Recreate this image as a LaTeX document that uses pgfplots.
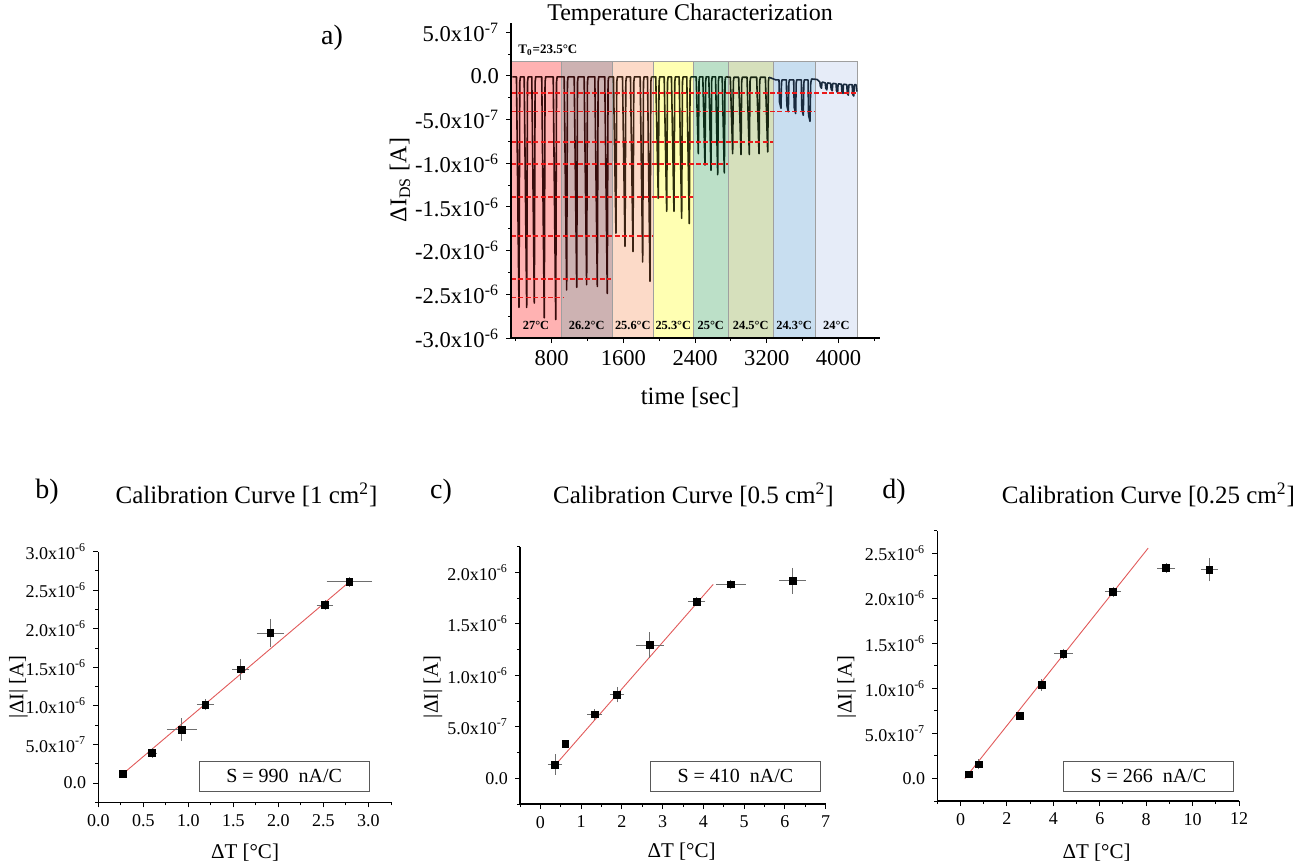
\documentclass[border=0pt]{standalone}
\usepackage{fontspec}
\setmainfont{Liberation Serif}
\usepackage{pgfplots}
\pgfplotsset{compat=1.18}
\newcommand{\sci}[2]{#1x10\textsuperscript{#2}}
\definecolor{s1}{RGB}{255,178,178}
\definecolor{s2}{RGB}{205,178,178}
\definecolor{s3}{RGB}{252,218,200}
\definecolor{s4}{RGB}{255,255,178}
\definecolor{s5}{RGB}{188,224,200}
\definecolor{s6}{RGB}{214,224,188}
\definecolor{s7}{RGB}{200,222,240}
\definecolor{s8}{RGB}{230,236,248}
\definecolor{tr1}{RGB}{55,12,12}
\definecolor{tr2}{RGB}{60,35,20}
\definecolor{tr3}{RGB}{45,45,12}
\definecolor{tr4}{RGB}{12,45,25}
\definecolor{tr5}{RGB}{25,38,18}
\definecolor{tr6}{RGB}{25,42,62}
\definecolor{fitred}{RGB}{225,90,90}
\definecolor{dashred}{RGB}{235,25,25}
\definecolor{ebar}{RGB}{110,110,110}
\pgfplotsset{
  origin/.style={scale only axis, anchor=south west, axis lines*=left,
    axis line style={-, line width=0.6pt}, tick align=outside,
    major tick length=2.5pt, minor tick length=1.5pt,
    every tick/.style={black, line width=0.5pt}},
  calib/.style={origin, tick label style={font=\fontsize{9}{10}\selectfont}},
  shade/.style={draw=gray!75, line width=0.4pt, fill=#1},
  tr/.style={color=#1, line width=0.8pt, line join=round},
  dl/.style={draw=dashred, line width=0.9pt, dash pattern=on 2.5pt off 1.2pt},
  pts/.style={only marks, mark=square*, mark size=1.7pt, color=black,
    error bars/.cd, x dir=both, x explicit, y dir=both, y explicit,
    error bar style={color=ebar, line width=0.45pt},
    error mark options={color=ebar, mark size=1.6pt, line width=0.45pt}},
  fit/.style={color=fitred, line width=0.45pt}
}
\pgfplotstableread{
x y ex ey
0.271 0.117 0 0
0.598 0.390 0.02 0.02
0.928 0.693 0.13 0.108
1.190 1.014 0.06 0.03
1.580 1.473 0.058 0.095
1.910 1.946 0.117 0.143
2.517 2.306 0.056 0.02
2.787 2.609 0.217 0.02
}\tabB
\pgfplotstableread{
x y ex ey
0.359 0.133 0.094 0.068
0.614 0.334 0 0
1.334 0.621 0.10 0.02
1.883 0.813 0.10 0.045
2.686 1.295 0.258 0.092
3.833 1.716 0.135 0.015
4.668 1.884 0.287 0.015
6.190 1.919 0.246 0.094
}\tabC
\pgfplotstableread{
x y ex ey
0.358 0.045 0 0
0.788 0.156 0 0.02
2.550 0.699 0 0
3.497 1.037 0 0.03
4.430 1.387 0.27 0.02
6.570 2.074 0.215 0.02
8.860 2.334 0.244 0.02
10.720 2.316 0.23 0.093
}\tabD
\begin{document}
\begin{tikzpicture}
\useasboundingbox (0,0) rectangle (655pt,-433pt);
% ---------------- panel a
\begin{axis}[origin, at={(255.5pt,-169pt)}, width=184.5pt, height=157.5pt,
  xmin=346, xmax=4463, ymin=-3, ymax=0.606, axis on top,
  xtick={800,1600,2400,3200,4000}, xticklabels={800,1600,2400,3200,4000},
  minor xtick={400,1200,2000,2800,3600,4400},
  ytick={-3,-2.5,-2,-1.5,-1,-0.5,0,0.5},
  yticklabels={\sci{-3.0}{-6},\sci{-2.5}{-6},\sci{-2.0}{-6},\sci{-1.5}{-6},\sci{-1.0}{-6},\sci{-5.0}{-7},0.0,\sci{5.0}{-7}},
  minor ytick={-2.75,-2.25,-1.75,-1.25,-0.75,-0.25,0.25},
  tick label style={font=\fontsize{11.3}{13}\selectfont}]
\addplot[shade=s1] coordinates {(346,-3)(346,0.172)(904,0.172)(904,-3)} -- cycle;
\addplot[shade=s2] coordinates {(904,-3)(904,0.172)(1476,0.172)(1476,-3)} -- cycle;
\addplot[shade=s3] coordinates {(1476,-3)(1476,0.172)(1934,0.172)(1934,-3)} -- cycle;
\addplot[shade=s4] coordinates {(1934,-3)(1934,0.172)(2380,0.172)(2380,-3)} -- cycle;
\addplot[shade=s5] coordinates {(2380,-3)(2380,0.172)(2770,0.172)(2770,-3)} -- cycle;
\addplot[shade=s6] coordinates {(2770,-3)(2770,0.172)(3272,0.172)(3272,-3)} -- cycle;
\addplot[shade=s7] coordinates {(3272,-3)(3272,0.172)(3738,0.172)(3738,-3)} -- cycle;
\addplot[shade=s8] coordinates {(3738,-3)(3738,0.172)(4214,0.172)(4214,-3)} -- cycle;
% trace
\addplot[tr=tr1] coordinates {(360,-0.01)
(407,-0.01)(435,-2.65)(444,-0.07)(451,-0.01)
(493,-0.01)(521,-2.65)(530,-0.07)(537,-0.01)
(578,-0.01)(606,-2.60)(615,-0.07)(622,-0.01)
(689,-0.01)(717,-2.77)(726,-0.07)(733,-0.01)
(817,-0.01)(845,-2.79)(854,-0.07)(861,-0.01)
(939,-0.01)(967,-2.45)(976,-0.07)(983,-0.01)
(1051,-0.01)(1079,-2.42)(1088,-0.07)(1095,-0.01)
(1162,-0.01)(1190,-2.39)(1199,-0.07)(1206,-0.01)
(1281,-0.01)(1309,-2.41)(1318,-0.07)(1325,-0.01)
(1392,-0.01)(1420,-2.49)(1429,-0.07)(1436,-0.01)};
\addplot[tr=tr2] coordinates {(1436,-0.01)
(1489,-0.01)(1517,-1.80)(1526,-0.07)(1533,-0.01)
(1590,-0.01)(1618,-1.95)(1627,-0.07)(1634,-0.01)
(1679,-0.01)(1707,-2.01)(1716,-0.07)(1723,-0.01)
(1787,-0.01)(1815,-2.13)(1824,-0.07)(1831,-0.01)
(1869,-0.01)(1897,-2.35)(1906,-0.07)(1913,-0.01)};
\addplot[tr=tr3] coordinates {(1913,-0.01)
(1961,-0.01)(1989,-1.40)(1998,-0.07)(2005,-0.01)
(2055,-0.01)(2083,-1.55)(2092,-0.07)(2099,-0.01)
(2136,-0.01)(2164,-1.55)(2173,-0.07)(2180,-0.01)
(2222,-0.01)(2250,-1.63)(2259,-0.07)(2266,-0.01)
(2307,-0.01)(2335,-1.69)(2344,-0.07)(2351,-0.01)};
\addplot[tr=tr4] coordinates {(2351,-0.01)
(2412,-0.01)(2436,-0.89)(2444,-0.06)(2450,-0.01)
(2486,-0.01)(2510,-1.02)(2518,-0.06)(2524,-0.01)
(2553,-0.01)(2577,-1.08)(2585,-0.06)(2591,-0.01)
(2628,-0.01)(2652,-1.13)(2660,-0.06)(2666,-0.01)
(2702,-0.01)(2726,-1.11)(2734,-0.06)(2740,-0.01)};
\addplot[tr=tr5] coordinates {(2740,-0.01)
(2793,-0.015)(2819,-0.89)(2827,-0.06)(2834,-0.015)
(2886,-0.015)(2912,-0.90)(2920,-0.06)(2927,-0.015)
(2979,-0.015)(3005,-0.90)(3013,-0.06)(3020,-0.015)
(3087,-0.015)(3113,-0.89)(3121,-0.06)(3128,-0.015)
(3184,-0.015)(3210,-0.87)(3218,-0.06)(3225,-0.015)};
\addplot[tr=tr6] coordinates {(3225,-0.015)(3300,-0.045)
(3336,-0.045)(3342,-0.30)(3358,-0.37)(3364,-0.08)(3370,-0.045)
(3418,-0.045)(3424,-0.34)(3440,-0.41)(3446,-0.08)(3452,-0.045)
(3500,-0.045)(3506,-0.36)(3522,-0.43)(3528,-0.08)(3534,-0.045)
(3585,-0.045)(3591,-0.38)(3607,-0.45)(3613,-0.08)(3619,-0.045)
(3660,-0.045)(3666,-0.45)(3682,-0.52)(3690,-0.08)(3700,-0.035)(3760,-0.04)
(3792,-0.07)(3798,-0.12)(3810,-0.14)(3815,-0.08)(3820,-0.07)
(3852,-0.08)(3858,-0.14)(3870,-0.16)(3875,-0.09)(3880,-0.08)
(3912,-0.085)(3918,-0.15)(3930,-0.17)(3935,-0.095)(3940,-0.085)
(3972,-0.09)(3978,-0.17)(3990,-0.19)(3995,-0.10)(4000,-0.09)
(4032,-0.095)(4038,-0.18)(4050,-0.20)(4055,-0.105)(4060,-0.095)
(4092,-0.10)(4098,-0.20)(4110,-0.22)(4115,-0.11)(4120,-0.10)
(4152,-0.10)(4158,-0.21)(4170,-0.23)(4175,-0.11)(4180,-0.10)
(4195,-0.10)(4205,-0.18)};
% dashed levels
\addplot[dl] coordinates {(346,-2.537)(930,-2.537)};
\addplot[dl] coordinates {(346,-2.326)(1458,-2.326)};
\addplot[dl] coordinates {(346,-1.831)(1934,-1.831)};
\addplot[dl] coordinates {(346,-1.388)(2380,-1.388)};
\addplot[dl] coordinates {(346,-1.007)(2770,-1.007)};
\addplot[dl] coordinates {(346,-0.759)(3272,-0.759)};
\addplot[dl] coordinates {(346,-0.408)(3738,-0.408)};
\addplot[dl] coordinates {(346,-0.198)(4214,-0.198)};
\begin{scope}[every node/.style={font=\bfseries\fontsize{6.2}{7}\selectfont, inner sep=0pt}]
\node at (axis cs:625,-2.86) {27°C};
\node at (axis cs:1190,-2.86) {26.2°C};
\node at (axis cs:1705,-2.86) {25.6°C};
\node at (axis cs:2157,-2.86) {25.3°C};
\node at (axis cs:2575,-2.86) {25°C};
\node at (axis cs:3021,-2.86) {24.5°C};
\node at (axis cs:3505,-2.86) {24.3°C};
\node at (axis cs:3976,-2.86) {24°C};
\end{scope}
\node[anchor=west, inner sep=0pt, font=\bfseries\fontsize{6.5}{8}\selectfont] at (axis cs:424,0.297) {T\textsubscript{0}=23.5°C};
\end{axis}
\node[font=\fontsize{12}{14}\selectfont] at (345pt,-7.5pt) {Temperature Characterization};
\node[font=\fontsize{14}{16}\selectfont] at (166pt,-19pt) {a)};
\node[rotate=90, font=\fontsize{12}{14}\selectfont] at (200pt,-90pt) {ΔI\textsubscript{DS} [A]};
\node[font=\fontsize{12.4}{14}\selectfont] at (345pt,-199pt) {time [sec]};
% ---------------- panel b
\begin{axis}[calib, at={(49.15pt,-401.15pt)}, width=146.35pt, height=125.3pt,
  xmin=0, xmax=3.25, ymin=-0.25, ymax=3.0,
  xtick={0,0.5,1,1.5,2,2.5,3}, xticklabels={0.0,0.5,1.0,1.5,2.0,2.5,3.0},
  minor xtick={0.25,0.75,1.25,1.75,2.25,2.75,3.25},
  ytick={0,0.5,1,1.5,2,2.5,3},
  yticklabels={0.0,\sci{5.0}{-7},\sci{1.0}{-6},\sci{1.5}{-6},\sci{2.0}{-6},\sci{2.5}{-6},\sci{3.0}{-6}},
  minor ytick={-0.25,0.25,0.75,1.25,1.75,2.25,2.75}]
\addplot[fit] coordinates {(0.271,0.117)(2.787,2.608)};
\addplot[pts] table[x=x, y=y, x error=ex, y error=ey] {\tabB};
\end{axis}
% ---------------- panel c
\begin{axis}[calib, at={(260pt,-402pt)}, width=152.85pt, height=128.65pt,
  xmin=-0.5, xmax=7, ymin=-0.25, ymax=2.25,
  xtick={0,1,2,3,4,5,6,7}, xticklabels={0,1,2,3,4,5,6,7},
  minor xtick={-0.5,0.5,1.5,2.5,3.5,4.5,5.5,6.5},
  ytick={0,0.5,1,1.5,2},
  yticklabels={0.0,\sci{5.0}{-7},\sci{1.0}{-6},\sci{1.5}{-6},\sci{2.0}{-6}},
  minor ytick={-0.25,0.25,0.75,1.25,1.75,2.25}]
\addplot[fit] coordinates {(0.425,0.155)(4.24,1.884)};
\addplot[pts] table[x=x, y=y, x error=ex, y error=ey] {\tabC};
\end{axis}
% ---------------- panel d
\begin{axis}[calib, at={(468.65pt,-400.5pt)}, width=150.85pt, height=135.15pt,
  xmin=-1, xmax=12, ymin=-0.25, ymax=2.75,
  xtick={0,2,4,6,8,10,12}, xticklabels={0,2,4,6,8,10,12},
  minor xtick={-1,1,3,5,7,9,11},
  ytick={0,0.5,1,1.5,2,2.5},
  yticklabels={0.0,\sci{5.0}{-7},\sci{1.0}{-6},\sci{1.5}{-6},\sci{2.0}{-6},\sci{2.5}{-6}},
  minor ytick={-0.25,0.25,0.75,1.25,1.75,2.25,2.75}]
\addplot[fit] coordinates {(0.186,0.0)(8.086,2.557)};
\addplot[pts] table[x=x, y=y, x error=ex, y error=ey] {\tabD};
\end{axis}
% texts for b, c, d
\begin{scope}[every node/.style={font=\fontsize{12.5}{14}\selectfont}]
\node at (123.3pt,-247.5pt) {Calibration Curve [1 cm\textsuperscript{2}]};
\node at (346.7pt,-247.5pt) {Calibration Curve [0.5 cm\textsuperscript{2}]};
\node at (574.2pt,-247.5pt) {Calibration Curve [0.25 cm\textsuperscript{2}]};
\end{scope}
\begin{scope}[every node/.style={font=\fontsize{14}{16}\selectfont}]
\node at (23.5pt,-246pt) {b)};
\node at (220.5pt,-246pt) {c)};
\node at (447pt,-246pt) {d)};
\end{scope}
\begin{scope}[every node/.style={rotate=90, font=\fontsize{10.3}{12}\selectfont}]
\node at (9.2pt,-343.5pt) {|ΔI| [A]};
\node at (216.5pt,-343.5pt) {|ΔI| [A]};
\node at (423.3pt,-343.5pt) {|ΔI| [A]};
\end{scope}
\begin{scope}[every node/.style={font=\fontsize{10.5}{12}\selectfont}]
\node at (122.5pt,-426.5pt) {ΔT [°C]};
\node at (340.8pt,-425.8pt) {ΔT [°C]};
\node at (548.3pt,-426.5pt) {ΔT [°C]};
\end{scope}
\begin{scope}[every node/.style={draw=gray!70!black, line width=0.5pt, minimum width=84.8pt, minimum height=15.3pt, inner sep=0pt, font=\fontsize{10}{12}\selectfont}]
\node at (142.1pt,-388.2pt) {S = 990~~nA/C};
\node at (367.7pt,-388.2pt) {S = 410~~nA/C};
\node at (574.2pt,-388.2pt) {S = 266~~nA/C};
\end{scope}
\end{tikzpicture}
\end{document}
